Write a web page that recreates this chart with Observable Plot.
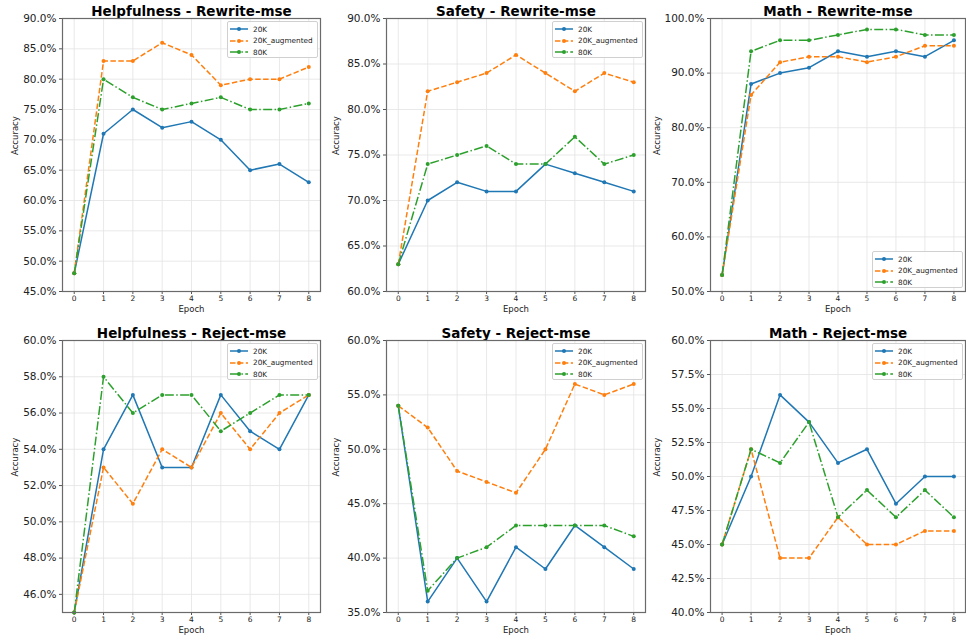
<!DOCTYPE html>
<html>
<head>
<meta charset="utf-8">
<script src="https://cdn.jsdelivr.net/npm/d3@7"></script>
<script src="https://cdn.jsdelivr.net/npm/@observablehq/plot@0.6"></script>
<style>
  body { margin: 0; background: #fff; font-family: "DejaVu Sans", sans-serif; }
  #fig { position: relative; width: 966px; height: 642px; overflow: hidden; background: #fff; }
  .cell { position: absolute; }
  .cell svg { overflow: visible; }
  .legend {
    position: absolute; box-sizing: border-box; width: 91px; height: 37px;
    background: rgba(255,255,255,0.85); border: 1px solid #d0d0d0; border-radius: 2px;
    padding: 1.5px 2px; font-size: 7.3px; color: #222; line-height: 11.5px;
  }
  .legend .row { display: flex; align-items: center; height: 11.5px; }
  .legend svg { width: 18px; height: 8px; margin-right: 5px; flex: none; }
</style>
</head>
<body>
<div id="fig"></div>
<script>
// Epochs on the x axis, shared by every panel
const epochs = [0, 1, 2, 3, 4, 5, 6, 7, 8];

// Series names and their drawing styles
const seriesNames = ["20K", "20K_augmented", "80K"];
const seriesColors = ["#1f77b4", "#ff7f0e", "#2ca02c"];
const seriesDash = [null, "5.5,2.4", "9,2.4,1.5,2.4"];

// Panel titles (row by row)
const panelTitles = [
  "Helpfulness - Rewrite-mse", "Safety - Rewrite-mse", "Math - Rewrite-mse",
  "Helpfulness - Reject-mse", "Safety - Reject-mse", "Math - Reject-mse"
];

// Accuracy (%) per epoch, one array per series and panel
const helpRewrite20K = [48, 71, 75, 72, 73, 70, 65, 66, 63];
const helpRewriteAug = [48, 83, 83, 86, 84, 79, 80, 80, 82];
const helpRewrite80K = [48, 80, 77, 75, 76, 77, 75, 75, 76];

const safeRewrite20K = [63, 70, 72, 71, 71, 74, 73, 72, 71];
const safeRewriteAug = [63, 82, 83, 84, 86, 84, 82, 84, 83];
const safeRewrite80K = [63, 74, 75, 76, 74, 74, 77, 74, 75];

const mathRewrite20K = [53, 88, 90, 91, 94, 93, 94, 93, 96];
const mathRewriteAug = [53, 86, 92, 93, 93, 92, 93, 95, 95];
const mathRewrite80K = [53, 94, 96, 96, 97, 98, 98, 97, 97];

const helpReject20K = [45, 54, 57, 53, 53, 57, 55, 54, 57];
const helpRejectAug = [45, 53, 51, 54, 53, 56, 54, 56, 57];
const helpReject80K = [45, 58, 56, 57, 57, 55, 56, 57, 57];

const safeReject20K = [54, 36, 40, 36, 41, 39, 43, 41, 39];
const safeRejectAug = [54, 52, 48, 47, 46, 50, 56, 55, 56];
const safeReject80K = [54, 37, 40, 41, 43, 43, 43, 43, 42];

const mathReject20K = [45, 50, 56, 54, 51, 52, 48, 50, 50];
const mathRejectAug = [45, 52, 44, 44, 47, 45, 45, 46, 46];
const mathReject80K = [45, 52, 51, 54, 47, 49, 47, 49, 47];

const panelSeries = [
  [helpRewrite20K, helpRewriteAug, helpRewrite80K],
  [safeRewrite20K, safeRewriteAug, safeRewrite80K],
  [mathRewrite20K, mathRewriteAug, mathRewrite80K],
  [helpReject20K, helpRejectAug, helpReject80K],
  [safeReject20K, safeRejectAug, safeReject80K],
  [mathReject20K, mathRejectAug, mathReject80K]
];

// Y axis ranges and tick values
const yDomains = [[45, 90], [60, 90], [50, 100], [45, 60], [35, 60], [40, 60]];
const yTicks = [
  [45, 50, 55, 60, 65, 70, 75, 80, 85, 90],
  [60, 65, 70, 75, 80, 85, 90],
  [50, 60, 70, 80, 90, 100],
  [46, 48, 50, 52, 54, 56, 58, 60],
  [35, 40, 45, 50, 55, 60],
  [40, 42.5, 45, 47.5, 50, 52.5, 55, 57.5, 60]
];
const legendCorner = ["top", "top", "bottom", "top", "top", "top"];

// Grid layout of the cells
const colX = [0, 322, 647], colW = [322, 325, 319];
const colML = [62, 64, 63], colMR = [2, 2, 1];
const rowY = [0, 321], rowH = [321, 321];
const rowMT = [18, 19], rowMB = [30, 30];
const yLabelDx = [-47, -50, -53];

const fig = document.getElementById("fig");

panelSeries.forEach((series, p) => {
  const col = p % 3, row = Math.floor(p / 3);
  const rows = series.flatMap((vals, s) =>
    vals.map((v, i) => ({ epoch: epochs[i], acc: v, series: seriesNames[s], s })));

  const lineMarks = seriesNames.map((name, s) =>
    Plot.line(rows.filter(d => d.s === s), {
      x: "epoch", y: "acc", stroke: seriesColors[s], strokeWidth: 1.5,
      strokeDasharray: seriesDash[s], strokeLinecap: "butt"
    }));
  const dotMarks = seriesNames.map((name, s) =>
    Plot.dot(rows.filter(d => d.s === s), {
      x: "epoch", y: "acc", fill: seriesColors[s], r: 2
    }));

  const chart = Plot.plot({
    width: colW[col], height: rowH[row],
    marginLeft: colML[col], marginRight: colMR[col],
    marginTop: rowMT[row], marginBottom: rowMB[row],
    style: { fontFamily: "DejaVu Sans, sans-serif", background: "transparent", color: "#222" },
    x: { domain: [-0.4, 8.4] },
    y: { domain: yDomains[p] },
    marks: [
      Plot.gridX(epochs, { stroke: "#e3e3e3", strokeOpacity: 1, strokeWidth: 0.8 }),
      Plot.gridY(yTicks[p], { stroke: "#e3e3e3", strokeOpacity: 1, strokeWidth: 0.8 }),
      Plot.axisX(epochs, { tickSize: 3, tickPadding: 1.5, fontSize: 7.5, label: null, stroke: "#555" }),
      Plot.axisY(yTicks[p], {
        tickSize: 3, tickPadding: 3, fontSize: 10.5, label: null, stroke: "#555",
        tickFormat: d => d.toFixed(1) + "%"
      }),
      Plot.text(["Epoch"], { text: d => d, frameAnchor: "bottom", dy: 20, fontSize: 8.5 }),
      Plot.text(["Accuracy"], { text: d => d, frameAnchor: "left", rotate: -90, dx: yLabelDx[col], fontSize: 8.5 }),
      Plot.text([panelTitles[p]], {
        text: d => d, frameAnchor: "top", lineAnchor: "bottom", dy: -3,
        fontSize: 13.5, fontWeight: "bold", fill: "#000"
      }),
      ...lineMarks,
      ...dotMarks,
      Plot.frame({ stroke: "#6a6a6a", strokeWidth: 1.2 })
    ]
  });

  const cell = document.createElement("div");
  cell.className = "cell";
  cell.style.left = colX[col] + "px";
  cell.style.top = rowY[row] + "px";
  cell.appendChild(chart);
  fig.appendChild(cell);

  // Legend box in the corner of the plotting frame
  const lg = document.createElement("div");
  lg.className = "legend";
  const frameRight = colX[col] + colW[col] - colMR[col];
  lg.style.left = (frameRight - 93) + "px";
  if (legendCorner[p] === "top") {
    lg.style.top = (rowY[row] + rowMT[row] + 3) + "px";
  } else {
    lg.style.top = (rowY[row] + rowH[row] - rowMB[row] - 40) + "px";
  }
  seriesNames.forEach((name, s) => {
    const r = document.createElement("div");
    r.className = "row";
    const dash = seriesDash[s] ? ` stroke-dasharray="${seriesDash[s]}"` : "";
    r.innerHTML =
      `<svg viewBox="0 0 18 8"><line x1="0" y1="4" x2="18" y2="4" stroke="${seriesColors[s]}" stroke-width="1.5"${dash}/>` +
      `<circle cx="9" cy="4" r="2" fill="${seriesColors[s]}"/></svg><span>${name}</span>`;
    lg.appendChild(r);
  });
  fig.appendChild(lg);
});
</script>
</body>
</html>
